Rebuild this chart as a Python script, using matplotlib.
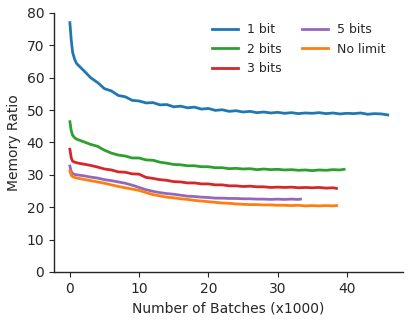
import numpy as np
import matplotlib
matplotlib.use('Agg')
import matplotlib.pyplot as plt

# batches (x1000)
x_1bit = [0, 0.2, 0.4, 0.7] + list(range(1, 46)) + [45.9]
x_2bit = [0, 0.2, 0.4, 0.7] + list(range(1, 40)) + [39.6]
x_3bit = [0, 0.2, 0.4, 0.7] + list(range(1, 39)) + [38.5]
x_5bit = [0, 0.2, 0.4, 0.7] + list(range(1, 34)) + [33.3]
x_nolim = [0, 0.2, 0.4, 0.7] + list(range(1, 39)) + [38.5]

y_1bit = [77.0, 71.5, 67.8, 65.6,
          64.3, 62.2, 60.0, 58.5, 56.6, 55.9, 54.5, 54.1, 53.0, 52.8,
          52.2, 52.3, 51.6, 51.7, 51.0, 51.2, 50.7, 50.9, 50.3, 50.5,
          49.9, 50.1, 49.6, 49.8, 49.4, 49.6, 49.2, 49.4, 49.1, 49.3,
          49.0, 49.2, 48.9, 49.1, 49.0, 49.2, 48.9, 49.1, 48.8, 49.0,
          48.9, 49.1, 48.7, 48.9, 48.8, 48.5]
y_2bit = [46.4, 43.6, 42.2, 41.4,
          41.0, 40.2, 39.4, 38.8, 37.6, 36.7, 36.1, 35.8, 35.2, 35.2,
          34.6, 34.5, 33.9, 33.6, 33.2, 33.1, 32.8, 32.8, 32.5, 32.5,
          32.2, 32.2, 31.9, 32.0, 31.8, 31.9, 31.6, 31.8, 31.6, 31.7,
          31.5, 31.6, 31.4, 31.5, 31.3, 31.5, 31.4, 31.6, 31.5, 31.7]
y_3bit = [37.9, 35.2, 34.2, 33.9,
          33.7, 33.3, 32.9, 32.4, 31.8, 31.5, 30.9, 30.8, 30.3, 30.2,
          29.2, 28.9, 28.5, 28.3, 27.9, 27.8, 27.5, 27.5, 27.2, 27.2,
          26.9, 26.9, 26.6, 26.6, 26.4, 26.5, 26.3, 26.3, 26.1, 26.2,
          26.1, 26.2, 26.0, 26.1, 26.0, 26.1, 25.9, 26.0, 25.8]
y_5bit = [32.7, 31.0, 30.4, 30.1,
          30.0, 29.7, 29.3, 29.0, 28.5, 28.2, 27.8, 27.4, 26.8, 26.1,
          25.4, 24.9, 24.5, 24.2, 24.0, 23.7, 23.4, 23.3, 23.1, 23.0,
          22.8, 22.8, 22.7, 22.7, 22.6, 22.6, 22.5, 22.5, 22.4, 22.5,
          22.4, 22.5, 22.4, 22.5]
y_nolim = [31.2, 29.9, 29.4, 29.2,
           29.0, 28.6, 28.2, 27.8, 27.4, 26.9, 26.4, 26.0, 25.6, 25.2,
           24.5, 23.9, 23.5, 23.1, 22.9, 22.6, 22.4, 22.1, 21.9, 21.7,
           21.5, 21.3, 21.2, 21.0, 20.9, 20.8, 20.8, 20.7, 20.7, 20.6,
           20.6, 20.5, 20.6, 20.4, 20.5, 20.4, 20.5, 20.4, 20.5]

labels = ['1 bit', '2 bits', '3 bits', '5 bits', 'No limit']

plt.rcParams['font.family'] = 'DejaVu Sans'
plt.rcParams['font.size'] = 10
plt.rcParams['text.color'] = '#262626'
plt.rcParams['axes.labelcolor'] = '#262626'
plt.rcParams['xtick.color'] = '#262626'
plt.rcParams['ytick.color'] = '#262626'

fig = plt.figure(figsize=(4.15, 3.23), dpi=100)
ax = fig.add_axes([0.130, 0.158, 0.841, 0.802])

ax.plot(x_1bit, y_1bit, color='#1f77b4', lw=2.0, label=labels[0])
ax.plot(x_2bit, y_2bit, color='#2ca02c', lw=2.0, label=labels[1])
ax.plot(x_3bit, y_3bit, color='#d62728', lw=2.0, label=labels[2])
ax.plot(x_5bit, y_5bit, color='#9467bd', lw=2.0, label=labels[3])
ax.plot(x_nolim, y_nolim, color='#ff7f0e', lw=2.0, label=labels[4])

ax.set_ylim(0, 80)
ax.set_xlim(-2.3, 48.1)
ax.set_xticks([0, 10, 20, 30, 40])
ax.set_yticks(np.arange(0, 81, 10))
ax.set_xlabel('Number of Batches (x1000)')
ax.set_ylabel('Memory Ratio')
for s in ['top', 'right']:
    ax.spines[s].set_visible(False)
for s in ['left', 'bottom']:
    ax.spines[s].set_color('#262626')
    ax.spines[s].set_linewidth(1.0)

ax.legend(ncol=2, loc='upper right', frameon=False, fontsize=9,
          handlelength=2.1, handletextpad=0.7, columnspacing=1.6,
          labelspacing=0.5, bbox_to_anchor=(0.981, 1.003))

plt.savefig('out.png', dpi=100)
